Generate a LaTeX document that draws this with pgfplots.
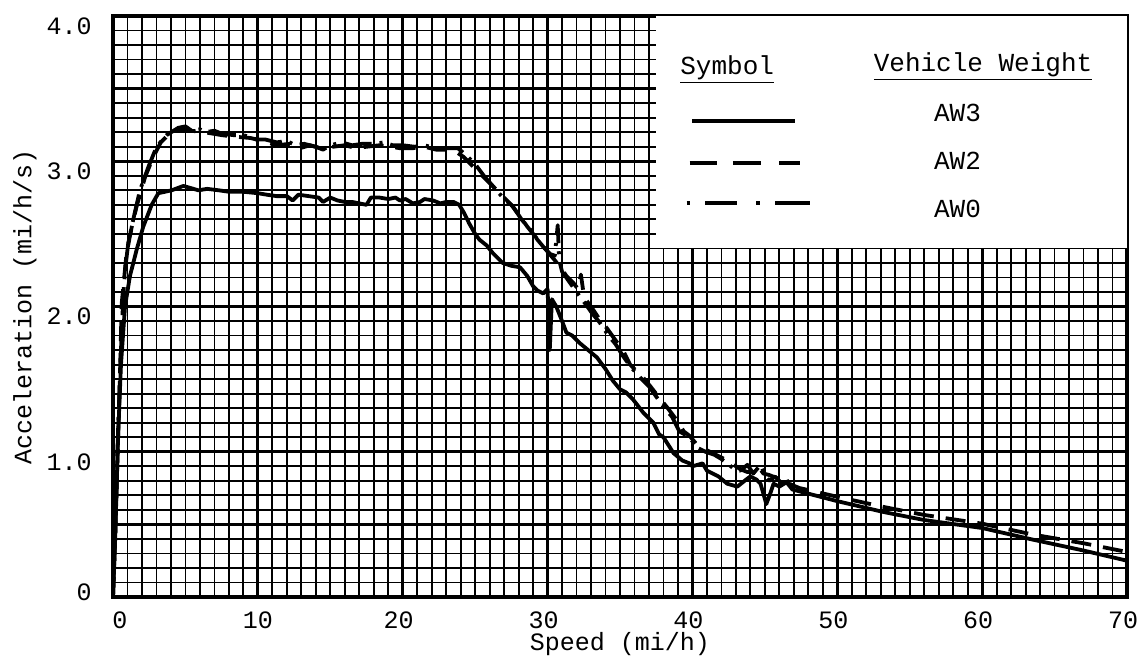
\documentclass[border=0pt]{standalone}
\usepackage{pgfplots}
\pgfplotsset{compat=1.18}
\usepackage{fontspec}
\setmainfont{Liberation Mono}
\begin{document}
\fontsize{12.5}{15}\selectfont
\begin{tikzpicture}
\begin{axis}[
  scale only axis, width=507pt, height=290.5pt,
  xmin=0, xmax=70, ymin=0, ymax=4,
  xtick={0,10,20,30,40,50,60,70},
  xticklabels={\hspace*{11pt}0,\hspace*{4pt}10,20,30,40,50,60,70},
  ytick={0,1,2,3,4},
  yticklabels={\raisebox{15pt}{0},1.0,2.0,3.0,4.0},
  minor x tick num=9, minor y tick num=9,
  extra y ticks={0.5,1.5,2.5,3.5}, extra y tick labels={},
  extra y tick style={major grid style={line width=1.15pt,black}},
  grid=both,
  major grid style={line width=1.5pt, black},
  minor grid style={line width=0.9pt, black},
  major tick length=0pt, minor tick length=0pt,
  axis line style={line width=2.4pt},
  tick label style={font=\fontsize{12.5}{15}\selectfont, inner sep=1pt},
  x tick label style={yshift=-6pt, xshift=-2pt},
  y tick label style={yshift=-5pt, xshift=-9.5pt},
  xlabel={Speed (mi/h)},
  ylabel={Acceleration (mi/h/s)},
  label style={font=\fontsize{12.5}{15}\selectfont, inner sep=0.5pt},
  xlabel style={at={(axis description cs:0.5,-0.0815)}, anchor=center},
  ylabel style={at={(axis description cs:-0.0868,0.5)}, anchor=center},
]
% legend box
\fill[white] (axis cs:37.5,2.4) rectangle (axis cs:70,4.0);
\coordinate (sw) at (rel axis cs:0,0);
\coordinate (ne) at (rel axis cs:1,1);

% AW3 solid
\addplot[black, line width=1.9pt, line join=round] coordinates {
(0,0) (0.15,0.4) (0.35,1.1) (0.55,1.6) (0.83,2.0) (1.17,2.21) (1.63,2.39) (2.09,2.55)
(2.67,2.70) (3.13,2.78) (4.05,2.80) (4.86,2.83) (5.9,2.80) (6.5,2.81) (7.3,2.80)
(8.0,2.79) (9.0,2.79) (10.0,2.78) (10.6,2.77) (11.3,2.76) (12.0,2.76) (12.4,2.73)
(12.8,2.77) (13.5,2.76) (14.2,2.75) (14.5,2.72) (15.0,2.75) (15.5,2.73) (16.0,2.72)
(16.5,2.72) (17.0,2.71) (17.5,2.70) (17.8,2.75) (18.4,2.75) (19.0,2.74) (19.5,2.75)
(19.8,2.73) (20.2,2.74) (20.7,2.71) (21.2,2.72) (21.5,2.74) (22.1,2.73) (22.6,2.71)
(23.0,2.72) (23.5,2.72) (23.9,2.70) (24.2,2.65) (24.6,2.57) (25.0,2.50) (25.3,2.46)
(25.8,2.42) (26.2,2.37) (26.9,2.30) (27.5,2.28) (28.1,2.27) (28.6,2.21) (29.0,2.14)
(29.3,2.11) (29.7,2.09) (30.0,2.12) (30.15,1.70) (30.3,2.05) (30.6,2.0) (31.0,1.9)
(31.3,1.82) (31.7,1.80) (32.2,1.75) (32.8,1.70) (33.4,1.65) (34.0,1.57) (34.5,1.49)
(35.0,1.43) (35.4,1.41) (35.9,1.36) (36.6,1.27) (37.3,1.20) (37.7,1.12) (38.0,1.10)
(38.7,0.99) (39.3,0.94) (39.8,0.92) (40.0,0.90) (40.7,0.92) (41.0,0.87) (41.4,0.85)
(41.8,0.83) (42.4,0.78) (43.1,0.76) (43.6,0.80) (44.0,0.83) (44.4,0.81) (44.7,0.78)
(45.1,0.64) (45.4,0.72) (45.6,0.78) (46.0,0.76) (46.5,0.79) (46.9,0.74)
(50,0.66) (53.2,0.585) (56,0.53) (60,0.475) (63.5,0.395) (67,0.32) (70,0.25)
};

% AW2 dashed
\addplot[black, line width=1.9pt, line join=round, dash pattern=on 10pt off 6pt] coordinates {
(0,0) (0.15,0.4) (0.35,1.1) (0.5,1.6) (0.6,2.02) (0.94,2.37) (1.3,2.55) (1.63,2.69)
(2.21,2.89) (2.78,3.03) (3.3,3.13) (3.9,3.19) (4.6,3.22) (5.4,3.21) (6.3,3.20)
(7.5,3.18) (8.3,3.17) (9.5,3.16) (10.3,3.14) (11.3,3.11) (12.2,3.12) (12.9,3.09)
(13.6,3.11) (14.3,3.09) (15.2,3.10) (16.0,3.11) (16.8,3.09) (17.5,3.10) (18.4,3.11)
(19.2,3.10) (19.8,3.09) (20.7,3.09) (21.5,3.10) (22.3,3.08) (23.0,3.08) (23.6,3.07)
(24.2,3.03) (25.1,2.94) (26.0,2.85) (26.9,2.76) (27.5,2.70) (28.1,2.62) (28.6,2.55)
(29.0,2.50) (29.5,2.44) (29.9,2.39) (30.4,2.33) (30.9,2.27) (31.3,2.21) (31.8,2.16)
(32.1,2.12) (32.3,2.22) (32.5,2.08) (32.7,2.04) (33.2,1.97) (33.6,1.91) (34.1,1.85)
(34.6,1.78) (35.2,1.70) (35.7,1.60) (36.1,1.56) (36.6,1.51) (37.1,1.45) (37.8,1.36)
(38.3,1.30) (38.9,1.22) (39.4,1.14) (39.8,1.11) (40.3,1.05) (40.8,1.02) (41.2,1.00)
(41.8,0.97) (42.4,0.94) (43.0,0.90) (43.3,0.88) (43.8,0.86) (44.2,0.86) (44.6,0.89)
(44.9,0.85) (45.3,0.84) (45.8,0.82) (46.3,0.80) (46.9,0.77) (47.4,0.75)
(50,0.69) (53.2,0.62) (56,0.565) (60,0.505) (63.5,0.43) (67,0.37) (70,0.31)
};

% AW0 dash-dot
\addplot[black, line width=1.9pt, line join=round, dash pattern=on 14pt off 4pt on 1.5pt off 4pt] coordinates {
(0,0) (0.15,0.45) (0.35,1.15) (0.55,1.7) (0.71,2.07) (0.83,2.25) (1.06,2.44) (1.40,2.60)
(1.86,2.80) (2.44,2.96) (3.01,3.10) (3.7,3.18) (4.5,3.23) (5.0,3.24) (5.43,3.21)
(6.0,3.22) (6.35,3.20) (7.0,3.21) (7.5,3.19) (8.3,3.18) (9.0,3.18) (9.9,3.15)
(10.5,3.15) (11.3,3.13) (12.0,3.14) (12.6,3.11) (13.2,3.12) (14.0,3.10) (14.5,3.08)
(15.0,3.11) (15.8,3.13) (16.5,3.11) (17.2,3.12) (18.0,3.12) (18.7,3.13) (19.3,3.11)
(20.0,3.11) (20.8,3.10) (21.5,3.11) (22.3,3.09) (23.0,3.09) (23.8,3.09) (24.4,3.04)
(25.0,2.98) (25.6,2.90) (26.3,2.82) (27.0,2.74) (27.6,2.69) (28.2,2.60) (28.8,2.53)
(29.3,2.46) (29.8,2.40) (30.2,2.36) (30.5,2.35) (30.7,2.56) (30.8,2.32) (31.0,2.24)
(31.5,2.17) (32.0,2.10) (32.6,2.02) (33.1,1.95) (33.6,1.89) (34.2,1.80) (34.7,1.74)
(35.2,1.66) (35.7,1.59) (36.4,1.51) (37.0,1.45) (37.5,1.38) (38.0,1.31) (38.6,1.24)
(39.1,1.14) (39.8,1.10) (40.3,1.03) (40.9,1.00) (41.5,0.98) (42.0,0.95) (42.4,0.92)
(42.9,0.88) (43.3,0.87) (43.8,0.91) (44.2,0.85) (44.7,0.91) (45.0,0.84) (45.3,0.80)
(45.7,0.83) (46.2,0.78) (46.7,0.80) (46.9,0.76)
};

% legend
\node[font=\fontsize{13}{15}\selectfont] at (axis cs:42.4,3.63) {\underline{Symbol}};
\node[font=\fontsize{13}{15}\selectfont] at (axis cs:60.06,3.65) {\underline{Vehicle Weight}};
\node[font=\fontsize{13}{15}\selectfont] at (axis cs:58.3,3.33) {AW3};
\node[font=\fontsize{13}{15}\selectfont] at (axis cs:58.3,3.00) {AW2};
\node[font=\fontsize{13}{15}\selectfont] at (axis cs:58.3,2.67) {AW0};
\draw[line width=2pt] (axis cs:40.0,3.28) -- (axis cs:47.1,3.28);
\draw[line width=2pt] (axis cs:39.8,2.99) -- (axis cs:41.7,2.99);
\draw[line width=2pt] (axis cs:42.8,2.99) -- (axis cs:44.7,2.99);
\draw[line width=2pt] (axis cs:46.0,2.99) -- (axis cs:47.4,2.99);
\draw[line width=2pt] (axis cs:39.6,2.71) -- (axis cs:39.85,2.71);
\draw[line width=2pt] (axis cs:40.9,2.71) -- (axis cs:43.1,2.71);
\draw[line width=2pt] (axis cs:44.4,2.71) -- (axis cs:44.65,2.71);
\draw[line width=2pt] (axis cs:45.7,2.71) -- (axis cs:48.1,2.71);
\end{axis}
\pgfresetboundingbox
\path ([shift={(-56.5pt,-31pt)}]sw) rectangle ([shift={(6.5pt,8pt)}]ne);
\end{tikzpicture}
\end{document}
